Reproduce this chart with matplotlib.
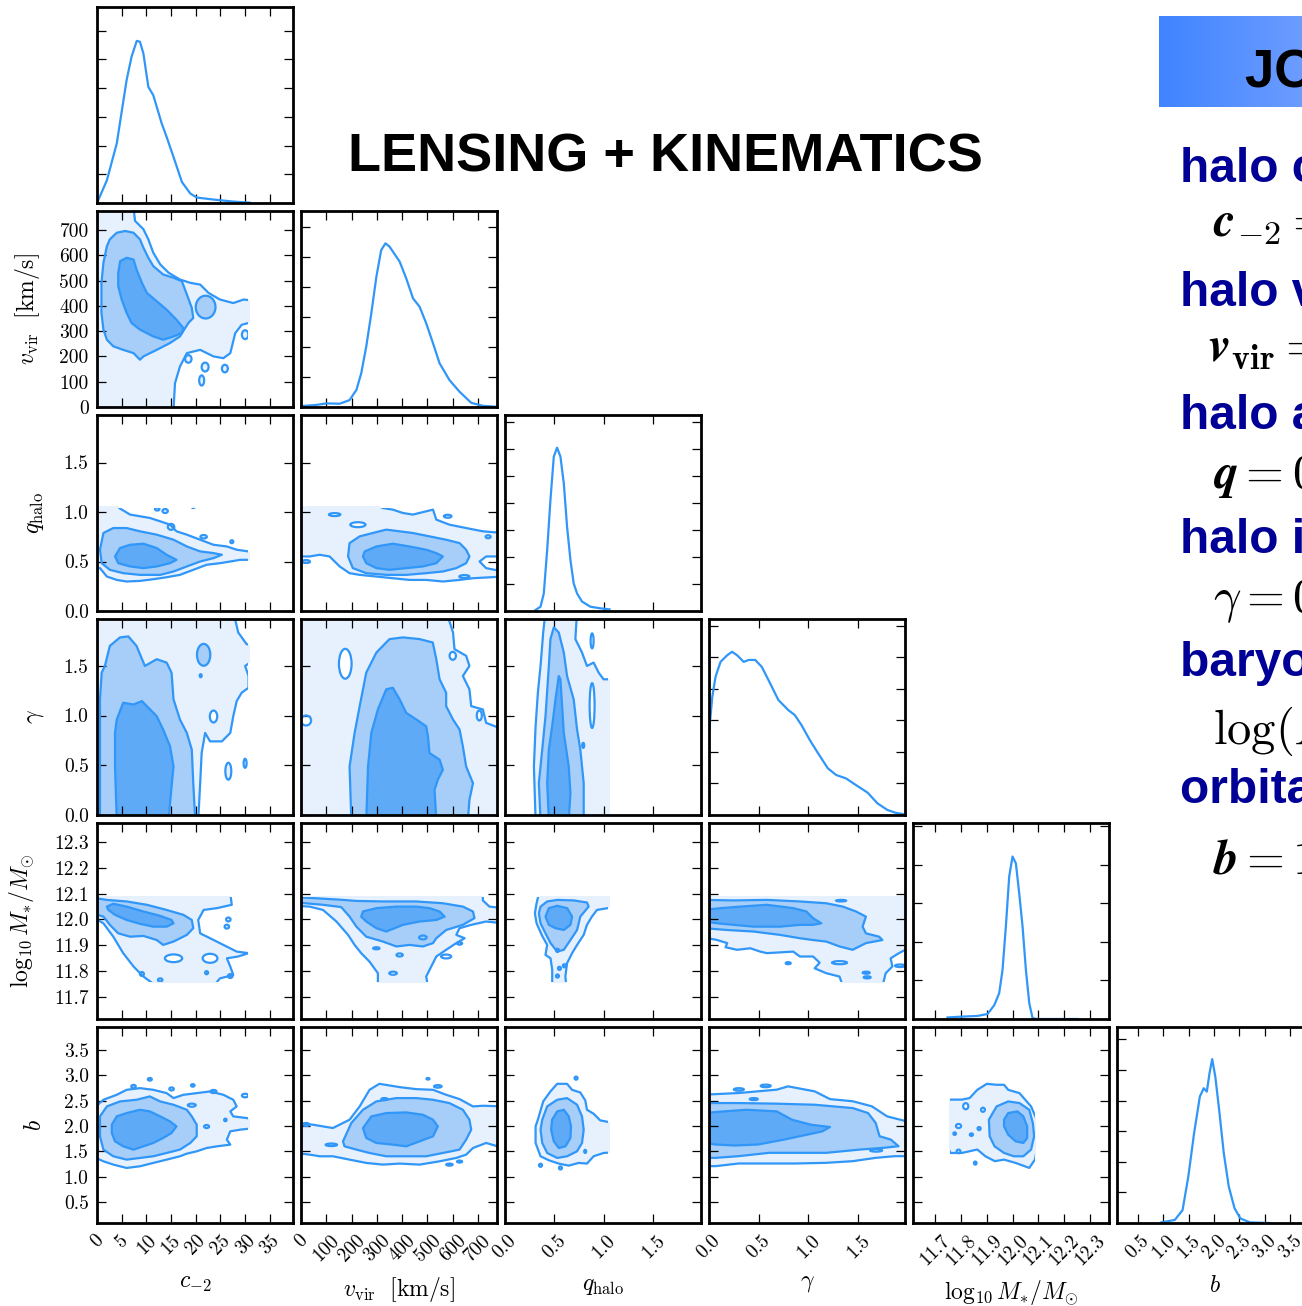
import matplotlib.pyplot as plt
import numpy as np
from matplotlib.colors import LinearSegmentedColormap
from matplotlib.patches import Ellipse, Polygon, Rectangle

plt.rcParams["font.family"] = "serif"
plt.rcParams["font.serif"] = ["cmr10"]
plt.rcParams["mathtext.fontset"] = "cm"
plt.rcParams["axes.formatter.use_mathtext"] = True

line_blue = "#3096f8"
fill_colors = ["#e7f1fe", "#a6cef9", "#5eaaf7"]
navy = "#000096"

# parameters: c_-2, v_vir, q_halo, gamma, log10 M*, b
labels = [
    r"$c_{-2}$",
    r"$v_{\rm vir}\ \ [{\rm km/s}]$",
    r"$q_{\rm halo}$",
    r"$\gamma$",
    r"$\log_{10}M_{*}/M_{\odot}$",
    r"$b$",
]
limits = [(0, 39.7), (0, 775), (0, 1.98), (0, 1.97), (11.613, 12.375), (0.09, 3.95)]
ticks = [
    [0, 5, 10, 15, 20, 25, 30, 35],
    [0, 100, 200, 300, 400, 500, 600, 700],
    [0.0, 0.5, 1.0, 1.5],
    [0.0, 0.5, 1.0, 1.5],
    [11.7, 11.8, 11.9, 12.0, 12.1, 12.2, 12.3],
    [0.5, 1.0, 1.5, 2.0, 2.5, 3.0, 3.5],
]
tick_fmt = ["{:.0f}", "{:.0f}", "{:.1f}", "{:.1f}", "{:.1f}", "{:.1f}"]
# edges of the sampled prior box
cuts = [(None, 31.0), (None, None), (None, 1.057), (None, None), (11.752, 12.092), (None, None)]

# 1D marginals (density in tick units)
c_grid = [0, 2.0, 4.0, 6.0, 7.0, 8.05, 8.7, 9.4, 10.4, 11.4, 13.1, 14.1, 15.5, 17.2, 18.9, 20.2, 23.6, 27.6, 31.0]
c_pdf = [0, 0.79, 2.07, 4.28, 5.09, 5.64, 5.61, 5.2, 4.04, 3.75, 2.77, 2.3, 1.6, 0.73, 0.33, 0.19, 0.12, 0.05, 0.01]
v_grid = [0, 61, 100, 153, 192, 219, 238, 258, 278, 298, 317, 334, 350, 390, 416, 443, 469, 495, 522, 548,
          587, 627, 673, 719, 772]
v_pdf = [0.03, 0.07, 0.12, 0.11, 0.23, 0.57, 1.12, 2.02, 3.13, 4.35, 5.24, 5.47, 5.36, 4.86, 4.30, 3.63, 3.35,
         2.80, 2.13, 1.46, 0.90, 0.51, 0.14, 0.04, 0.01]
q_grid = [0.309, 0.359, 0.392, 0.426, 0.459, 0.493, 0.526, 0.56, 0.594, 0.627, 0.661, 0.694, 0.728, 0.778,
          0.862, 0.962, 1.056]
q_pdf = [0.04, 0.16, 0.65, 2.26, 4.11, 5.72, 6.05, 5.72, 4.73, 3.12, 1.89, 1.02, 0.65, 0.35, 0.16, 0.1, 0.06]
g_grid = [0, 0.033, 0.066, 0.116, 0.183, 0.232, 0.282, 0.349, 0.398, 0.465, 0.531, 0.614, 0.697, 0.797, 0.863,
          0.93, 1.013, 1.096, 1.195, 1.278, 1.378, 1.477, 1.594, 1.693, 1.793, 1.876, 1.949]
g_pdf = [2.59, 3.75, 4.39, 4.86, 5.07, 5.18, 5.07, 4.86, 4.92, 4.92, 4.70, 4.18, 3.65, 3.33, 3.17, 2.85, 2.38,
         1.96, 1.48, 1.27, 1.16, 0.95, 0.71, 0.37, 0.16, 0.07, 0.03]
m_grid = [11.747, 11.799, 11.864, 11.903, 11.929, 11.948, 11.961, 11.974, 11.987, 12.0, 12.013, 12.026, 12.039,
          12.052, 12.065, 12.078, 12.097, 12.253]
m_pdf = [0.04, 0.06, 0.08, 0.13, 0.36, 0.67, 1.27, 2.40, 3.70, 4.22, 4.04, 3.26, 2.40, 1.27, 0.41, 0.02, 0, 0]
b_grid = [0.964, 1.229, 1.381, 1.494, 1.608, 1.722, 1.798, 1.859, 1.912, 1.965, 2.026, 2.102, 2.193, 2.291,
          2.405, 2.519, 2.709, 3.09]
b_pdf = [0.02, 0.1, 0.42, 1.51, 2.93, 4.13, 4.40, 4.29, 4.89, 5.35, 4.78, 3.69, 2.28, 1.19, 0.48, 0.15, 0.02, 0]
marginal_tops = [6.82, 6.55, 7.26, 6.22, 5.09, 6.4]

# 2D credible regions: outer / middle / inner outlines, plus small spots
# spot = (x, y, width, height, level) ; level 0 = empty hole, 1 = outer island, 2 = middle island
cv_inner = [(4.7, 577), (6.0, 590), (7.4, 583), (8.0, 544), (9.1, 491), (10.1, 451), (12.1, 418), (14.1, 385),
            (16.1, 345), (17.5, 312), (17.2, 292), (15.5, 279), (13.4, 266), (11.4, 279), (8.7, 306), (7.0, 332),
            (6.0, 372), (5.0, 425), (4.3, 478), (4.3, 530)]
cv_mid = [(2.6, 663), (4.0, 689), (5.7, 696), (7.4, 689), (8.7, 663), (9.4, 630), (10.4, 590), (11.4, 557),
          (13.4, 524), (15.5, 511), (17.2, 497), (18.2, 445), (19.2, 392), (19.5, 352), (18.5, 332), (16.8, 279),
          (14.8, 253), (12.1, 226), (9.4, 200), (8.7, 187), (7.4, 213), (5.3, 226), (3.3, 240), (2.0, 266),
          (1.3, 306), (0.9, 372), (0.9, 491), (1.3, 570), (2.0, 636)]
cv_outer = [(-1, 790), (7.4, 790), (7.7, 736), (9.4, 703), (10.4, 663), (11.4, 610), (12.8, 564), (14.5, 531),
            (16.8, 504), (18.9, 491), (20.9, 484), (22.6, 451), (24.9, 425), (27.6, 411), (29.7, 425), (32, 420),
            (32, 339), (29.3, 325), (28.0, 292), (27.0, 213), (25.6, 193), (23.6, 200), (20.9, 226), (18.2, 213),
            (16.8, 160), (15.8, 94), (15.5, -10), (-1, -10)]
cv_spots = [(22.0, 395, 4.0, 90, 2), (18.5, 190, 1.3, 30, 1), (21.9, 158, 1.4, 35, 1), (21.2, 105, 1.0, 40, 1),
            (25.9, 152, 1.2, 30, 1), (30.0, 286, 1.3, 35, 1)]

cq_inner = [(3.65, 0.551), (4.66, 0.636), (6.7, 0.669), (9.4, 0.680), (12.1, 0.636), (14.1, 0.568), (16.1, 0.517),
            (14.8, 0.483), (12.1, 0.450), (9.4, 0.433), (6.7, 0.450), (4.3, 0.483)]
cq_mid = [(1.3, 0.788), (3.3, 0.838), (6.0, 0.838), (8.7, 0.805), (12.1, 0.771), (15.5, 0.720), (18.2, 0.652),
          (20.9, 0.602), (23.6, 0.585), (25.3, 0.568), (23.6, 0.534), (20.9, 0.500), (18.2, 0.450), (15.5, 0.399),
          (12.8, 0.365), (8.7, 0.365), (5.3, 0.382), (2.6, 0.416), (0.95, 0.483), (0.6, 0.619)]
cq_outer = [(-1, 1.1), (4.3, 1.1), (4.5, 1.04), (6.7, 0.974), (8.7, 0.957), (10.7, 0.940), (12.8, 0.906),
            (14.8, 0.872), (16.1, 0.805), (18.2, 0.771), (20.9, 0.720), (23.6, 0.669), (26.3, 0.652), (28.3, 0.619),
            (32, 0.592), (32, 0.517), (29.0, 0.517), (27.0, 0.500), (24.9, 0.483), (22.2, 0.467), (19.5, 0.416),
            (16.8, 0.365), (14.1, 0.341), (11.4, 0.321), (8.7, 0.304), (6.0, 0.298), (4.0, 0.314), (2.0, 0.348),
            (0.6, 0.433), (-1, 0.45)]
cq_spots = [(12.2, 1.03, 0.9, 0.03, 1), (13.8, 1.01, 1.1, 0.04, 1), (15.0, 0.85, 1.3, 0.06, 1),
            (19.5, 1.05, 0.6, 0.02, 1), (21.6, 0.75, 1.3, 0.035, 1), (27.3, 0.70, 0.6, 0.03, 1)]

cg_inner = [(4.0, 0.96), (5.3, 1.128), (7.4, 1.111), (9.1, 1.145), (10.1, 1.094), (12.1, 0.993), (13.4, 0.859),
            (14.8, 0.69), (15.5, 0.488), (15.1, 0.286), (14.5, -0.05), (4.0, -0.05), (3.65, 0.488), (3.65, 0.825)]
cg_mid = [(1.6, 1.498), (2.6, 1.70), (4.66, 1.785), (6.35, 1.795), (8.0, 1.70), (9.7, 1.498), (12.1, 1.566),
          (14.1, 1.532), (15.1, 1.431), (15.5, 1.162), (16.8, 0.96), (18.2, 0.825), (19.2, 0.657), (19.5, 0.32),
          (19.9, -0.05), (0.6, -0.05), (0.6, 1.162), (0.95, 1.431)]
cg_outer = [(-1, 2.05), (27.6, 2.05), (28.6, 1.835), (30.3, 1.717), (32, 1.70), (32, 1.566), (30.0, 1.498),
            (30.7, 1.397), (30.7, 1.279), (29.3, 1.229), (28.3, 1.145), (27.6, 0.993), (27.0, 0.825), (25.3, 0.74),
            (22.9, 0.74), (21.9, 0.825), (21.2, 0.623), (20.9, 0.32), (20.5, -0.05), (-1, -0.05)]
cg_spots = [(21.6, 1.61, 2.7, 0.22, 2), (23.6, 0.99, 1.5, 0.12, 0), (26.6, 0.44, 1.2, 0.17, 1),
            (30.0, 0.52, 0.6, 0.09, 1), (21.0, 1.40, 0.4, 0.03, 1)]

cm_inner = [(2.0, 12.050), (3.3, 12.061), (6.0, 12.050), (9.4, 12.031), (12.8, 12.014), (15.1, 11.998),
            (15.5, 11.985), (14.1, 11.972), (11.4, 11.972), (8.7, 11.983), (6.0, 11.998), (3.65, 12.018),
            (2.3, 12.037)]
cm_mid = [(-1, 12.085), (2.0, 12.076), (6.0, 12.070), (10.1, 12.057), (14.1, 12.037), (17.5, 12.018),
          (19.2, 11.998), (19.5, 11.966), (18.2, 11.940), (15.5, 11.914), (13.4, 11.901), (12.1, 11.920),
          (9.4, 11.936), (6.7, 11.933), (4.3, 11.946), (2.6, 11.979), (1.3, 12.011), (-1, 12.024)]
cm_outer = [(-1, 12.10), (27.0, 12.10), (27.3, 12.057), (24.3, 12.044), (21.6, 12.037), (20.5, 11.998),
            (20.9, 11.946), (22.9, 11.927), (25.6, 11.901), (28.3, 11.875), (30.7, 11.869), (28.6, 11.856),
            (26.3, 11.849), (27.0, 11.817), (27.6, 11.784), (24.9, 11.771), (23.6, 11.74), (12.1, 11.74),
            (9.4, 11.778), (7.4, 11.817), (5.3, 11.869), (3.3, 11.933), (1.3, 11.985), (-1, 12.011)]
cm_spots = [(15.5, 11.849, 3.5, 0.03, 0), (22.9, 11.849, 3.0, 0.035, 0), (9.1, 11.788, 0.8, 0.015, 1),
            (12.8, 11.765, 0.9, 0.012, 1), (26.3, 11.972, 0.9, 0.015, 1), (26.6, 12.0, 0.9, 0.015, 1),
            (27.0, 11.78, 0.9, 0.015, 1), (22.2, 11.793, 0.6, 0.012, 2)]

cb_inner = [(3.0, 2.026), (4.0, 2.19), (6.0, 2.255), (8.7, 2.32), (10.7, 2.288), (12.8, 2.19), (14.8, 2.09),
            (16.1, 1.993), (15.1, 1.862), (13.4, 1.764), (11.4, 1.666), (9.4, 1.60), (7.4, 1.535), (5.3, 1.60),
            (3.65, 1.698), (3.0, 1.862)]
cb_mid = [(0.6, 2.19), (2.0, 2.386), (4.66, 2.484), (8.0, 2.517), (10.7, 2.583), (12.8, 2.484), (15.5, 2.419),
          (18.2, 2.32), (19.2, 2.19), (20.2, 2.026), (20.2, 1.797), (18.9, 1.666), (16.8, 1.535), (14.1, 1.469),
          (11.4, 1.404), (8.7, 1.371), (6.0, 1.338), (3.3, 1.404), (1.3, 1.535), (0.6, 1.797)]
cb_outer = [(-1, 2.32), (1.3, 2.517), (4.0, 2.615), (6.0, 2.713), (8.7, 2.746), (11.4, 2.713), (14.1, 2.648),
            (15.5, 2.55), (17.5, 2.615), (20.2, 2.648), (22.9, 2.681), (25.6, 2.615), (27.6, 2.517),
            (28.3, 2.386), (27.0, 2.288), (27.6, 2.19), (30.3, 2.157), (32, 2.124), (32, 1.96), (29.0, 1.928),
            (27.0, 1.895), (26.3, 1.731), (27.0, 1.633), (24.3, 1.60), (22.2, 1.567), (20.2, 1.502),
            (18.2, 1.456), (16.8, 1.404), (14.1, 1.338), (11.4, 1.273), (8.7, 1.207), (6.0, 1.174), (3.3, 1.24),
            (1.3, 1.305), (-1, 1.404)]
cb_spots = [(7.4, 2.78, 0.9, 0.06, 1), (10.7, 2.92, 0.8, 0.05, 1), (15.1, 2.73, 0.9, 0.06, 1),
            (19.4, 2.80, 0.7, 0.05, 1), (23.6, 2.68, 1.2, 0.06, 1), (30.0, 2.60, 1.3, 0.07, 1),
            (19.2, 2.41, 1.6, 0.06, 0), (22.2, 1.99, 1.0, 0.06, 1), (26.0, 2.12, 0.5, 0.05, 1)]

vq_inner = [(252, 0.602), (298, 0.652), (363, 0.68), (429, 0.652), (495, 0.619), (535, 0.585), (561, 0.551),
            (535, 0.483), (482, 0.45), (416, 0.433), (350, 0.416), (298, 0.433), (258, 0.483), (245, 0.551)]
vq_mid = [(192, 0.686), (232, 0.754), (284, 0.788), (337, 0.822), (390, 0.805), (442, 0.788), (508, 0.754),
          (574, 0.72), (627, 0.686), (653, 0.619), (666, 0.551), (653, 0.483), (614, 0.433), (561, 0.399),
          (495, 0.382), (416, 0.365), (337, 0.365), (258, 0.382), (205, 0.433), (186, 0.551)]
vq_outer = [(-20, 1.1), (278, 1.1), (324, 1.04), (363, 1.024), (403, 0.99), (442, 0.974), (495, 1.007),
            (522, 1.024), (535, 0.923), (587, 0.872), (653, 0.838), (719, 0.805), (800, 0.788), (800, 0.551),
            (732, 0.551), (706, 0.50), (732, 0.433), (800, 0.399), (800, 0.348), (680, 0.331), (627, 0.314),
            (561, 0.298), (495, 0.314), (429, 0.314), (363, 0.331), (298, 0.348), (232, 0.365), (192, 0.382),
            (153, 0.45), (113, 0.551), (74, 0.568), (34, 0.551), (-20, 0.551)]
vq_spots = [(133, 0.974, 45, 0.03, 0), (225, 0.872, 60, 0.05, 0), (580, 0.957, 30, 0.03, 1),
            (646, 0.348, 40, 0.03, 1), (740, 0.75, 20, 0.03, 1), (20, 0.50, 30, 0.03, 1)]

vg_inner = [(258, -0.05), (265, 0.488), (278, 0.825), (304, 1.061), (337, 1.263), (363, 1.279), (390, 1.162),
            (416, 1.027), (456, 0.96), (495, 0.892), (502, 0.791), (508, 0.623), (548, 0.556), (561, 0.455),
            (541, 0.354), (528, 0.253), (535, -0.05)]
vg_mid = [(199, -0.05), (192, 0.488), (212, 0.825), (232, 1.094), (258, 1.431), (298, 1.633), (350, 1.768),
          (403, 1.785), (469, 1.768), (521, 1.734), (535, 1.566), (548, 1.364), (574, 1.229), (574, 1.094),
          (601, 0.96), (627, 0.859), (640, 0.69), (653, 0.488), (680, 0.32), (666, 0.152), (660, -0.05)]
vg_outer = [(-20, 2.05), (574, 2.05), (601, 1.835), (607, 1.667), (653, 1.6), (666, 1.498), (640, 1.397),
            (666, 1.263), (673, 1.094), (719, 1.061), (732, 0.926), (800, 0.859), (800, -0.05), (-20, -0.05)]
vg_spots = [(175, 1.52, 50, 0.3, 0), (600, 1.6, 25, 0.08, 0), (705, 1.0, 20, 0.1, 0), (20, 0.95, 40, 0.1, 0)]

vm_inner = [(245, 12.031), (298, 12.044), (377, 12.050), (456, 12.050), (508, 12.044), (548, 12.031),
            (568, 12.011), (535, 11.998), (469, 11.992), (403, 11.979), (337, 11.953), (298, 11.966),
            (258, 11.992), (238, 12.011)]
vm_mid = [(-20, 12.087), (153, 12.077), (219, 12.072), (324, 12.070), (456, 12.070), (561, 12.063),
          (640, 12.050), (680, 12.031), (686, 12.005), (640, 11.979), (574, 11.959), (535, 11.927),
          (522, 11.908), (482, 11.895), (429, 11.901), (377, 11.895), (324, 11.914), (258, 11.933),
          (219, 11.972), (192, 12.011), (159, 12.048), (87, 12.057), (-20, 12.066)]
vm_outer = [(-20, 12.10), (719, 12.10), (719, 12.074), (745, 12.050), (800, 12.044), (800, 11.985),
            (732, 11.992), (673, 11.979), (627, 11.966), (614, 11.94), (647, 11.927), (614, 11.908),
            (574, 11.882), (535, 11.856), (515, 11.817), (495, 11.778), (502, 11.74), (304, 11.74),
            (304, 11.791), (271, 11.836), (238, 11.869), (212, 11.901), (186, 11.94), (140, 11.992),
            (87, 12.037), (34, 12.050), (-20, 12.053)]
vm_spots = [(482, 11.930, 30, 0.015, 0), (298, 11.888, 25, 0.008, 1), (390, 11.862, 25, 0.012, 0),
            (574, 11.856, 40, 0.015, 0), (364, 11.791, 30, 0.012, 0), (627, 11.907, 20, 0.01, 1)]

vb_inner = [(245, 1.96), (278, 2.19), (337, 2.255), (416, 2.268), (482, 2.222), (522, 2.124), (541, 1.993),
            (522, 1.797), (469, 1.698), (416, 1.60), (363, 1.633), (298, 1.666), (258, 1.764)]
vb_mid = [(166, 1.698), (199, 2.059), (245, 2.32), (298, 2.484), (377, 2.55), (456, 2.55), (522, 2.517),
          (587, 2.451), (640, 2.32), (666, 2.124), (673, 1.928), (653, 1.731), (627, 1.535), (561, 1.469),
          (495, 1.404), (416, 1.404), (337, 1.404), (271, 1.469), (219, 1.535), (172, 1.60)]
vb_outer = [(-20, 2.059), (47, 2.026), (126, 1.96), (192, 2.124), (232, 2.386), (271, 2.713), (310, 2.831),
            (390, 2.766), (456, 2.726), (522, 2.713), (574, 2.615), (627, 2.53), (680, 2.386), (719, 2.399),
            (800, 2.386), (800, 1.567), (732, 1.666), (680, 1.567), (653, 1.436), (614, 1.371), (548, 1.305),
            (469, 1.24), (390, 1.26), (324, 1.24), (258, 1.273), (192, 1.338), (126, 1.404), (74, 1.404),
            (34, 1.436), (-20, 1.469)]
vb_spots = [(120, 1.63, 45, 0.05, 2), (541, 2.78, 30, 0.05, 1), (502, 2.93, 12, 0.03, 1),
            (330, 2.53, 25, 0.04, 1), (587, 1.24, 25, 0.04, 1), (627, 1.30, 20, 0.04, 1), (20, 2.03, 25, 0.06, 1)]

qg_inner = [(0.443, -0.05), (0.426, 0.32), (0.443, 0.657), (0.476, 0.892), (0.51, 1.162), (0.543, 1.397),
            (0.56, 1.364), (0.577, 1.094), (0.594, 0.825), (0.644, 0.488), (0.661, 0.219), (0.644, -0.05)]
qg_mid = [(0.359, -0.05), (0.342, 0.32), (0.376, 0.657), (0.409, 0.993), (0.443, 1.498), (0.459, 1.768),
          (0.493, 1.886), (0.543, 1.835), (0.594, 1.633), (0.627, 1.397), (0.694, 1.162), (0.728, 0.859),
          (0.761, 0.657), (0.795, 0.32), (0.795, -0.05)]
qg_outer = [(0.309, -0.05), (0.292, 0.488), (0.309, 0.892), (0.332, 1.229), (0.359, 1.498), (0.386, 1.835),
            (0.409, 2.05), (0.728, 2.05), (0.711, 1.768), (0.778, 1.633), (0.828, 1.498), (0.895, 1.532),
            (0.946, 1.431), (0.996, 1.364), (1.10, 1.364), (1.10, -0.05)]
qg_spots = [(0.88, 1.10, 0.05, 0.45, 0), (0.88, 1.75, 0.03, 0.15, 0), (0.79, 0.7, 0.02, 0.05, 1)]

qm_inner = [(0.409, 12.011), (0.443, 12.044), (0.527, 12.053), (0.628, 12.044), (0.678, 12.011),
            (0.661, 11.979), (0.594, 11.959), (0.51, 11.966), (0.443, 11.979)]
qm_mid = [(0.359, 12.050), (0.426, 12.070), (0.527, 12.076), (0.694, 12.074), (0.828, 12.066), (0.845, 12.050),
          (0.761, 12.011), (0.728, 11.959), (0.661, 11.92), (0.594, 11.882), (0.527, 11.875), (0.46, 11.908),
          (0.409, 11.946), (0.359, 11.985), (0.342, 12.024)]
qm_outer = [(0.342, 12.10), (1.10, 12.10), (1.10, 12.048), (0.929, 12.037), (0.878, 12.011), (0.828, 11.979),
            (0.795, 11.94), (0.728, 11.901), (0.678, 11.869), (0.627, 11.83), (0.61, 11.778), (0.62, 11.74),
            (0.477, 11.74), (0.477, 11.804), (0.46, 11.849), (0.409, 11.862), (0.426, 11.901), (0.376, 11.936),
            (0.319, 11.985), (0.302, 12.024), (0.319, 12.063)]
qm_spots = [(0.53, 11.88, 0.03, 0.012, 2), (0.55, 11.81, 0.03, 0.012, 2), (0.60, 11.82, 0.03, 0.012, 2),
            (0.53, 11.78, 0.03, 0.012, 2)]

qb_inner = [(0.476, 2.124), (0.527, 2.288), (0.594, 2.32), (0.644, 2.19), (0.667, 1.993), (0.661, 1.764),
            (0.611, 1.60), (0.543, 1.567), (0.493, 1.698), (0.466, 1.928)]
qb_mid = [(0.376, 2.124), (0.426, 2.386), (0.527, 2.517), (0.627, 2.55), (0.728, 2.419), (0.778, 2.19),
          (0.795, 1.928), (0.778, 1.666), (0.728, 1.502), (0.627, 1.404), (0.527, 1.371), (0.426, 1.469),
          (0.376, 1.666), (0.359, 1.928)]
qb_outer = [(0.332, 2.124), (0.386, 2.484), (0.459, 2.681), (0.527, 2.831), (0.627, 2.831), (0.677, 2.713),
            (0.761, 2.66), (0.811, 2.504), (0.828, 2.32), (0.895, 2.242), (0.962, 2.111), (1.10, 2.059),
            (1.10, 1.482), (0.996, 1.469), (0.895, 1.404), (0.828, 1.26), (0.744, 1.273), (0.644, 1.22),
            (0.543, 1.26), (0.443, 1.325), (0.359, 1.404), (0.309, 1.666), (0.309, 1.993)]
qb_spots = [(0.718, 2.943, 0.03, 0.06, 1), (0.359, 1.227, 0.03, 0.06, 1), (0.56, 1.174, 0.03, 0.06, 1),
            (0.81, 1.5, 0.02, 0.06, 1)]

gm_inner = [(-0.05, 12.037), (0.116, 12.044), (0.315, 12.050), (0.581, 12.057), (0.847, 12.044),
            (0.979, 12.031), (1.046, 12.005), (1.129, 11.985), (1.046, 11.979), (0.913, 11.979), (0.714, 11.972),
            (0.448, 11.972), (0.249, 11.979), (0.083, 11.985), (-0.05, 11.992)]
gm_mid = [(-0.05, 12.076), (0.249, 12.074), (0.581, 12.076), (0.913, 12.070), (1.179, 12.063), (1.345, 12.050),
          (1.478, 12.031), (1.577, 12.011), (1.544, 11.972), (1.577, 11.946), (1.710, 11.933), (1.743, 11.92),
          (1.577, 11.908), (1.444, 11.882), (1.312, 11.895), (1.179, 11.914), (1.046, 11.92), (0.913, 11.927),
          (0.714, 11.94), (0.448, 11.953), (0.183, 11.959), (-0.05, 11.966)]
gm_outer = [(-0.05, 12.10), (2.04, 12.10), (2.04, 11.895), (1.909, 11.869), (1.826, 11.849), (1.843, 11.817),
            (1.776, 11.791), (1.743, 11.74), (1.345, 11.74), (1.312, 11.778), (1.179, 11.791), (1.062, 11.81),
            (1.112, 11.832), (1.046, 11.856), (0.913, 11.856), (0.847, 11.875), (0.581, 11.869), (0.515, 11.875),
            (0.415, 11.888), (0.282, 11.882), (0.166, 11.892), (0.183, 11.908), (0.083, 11.92), (-0.05, 11.93)]
gm_spots = [(0.796, 11.83, 0.05, 0.008, 2), (1.312, 11.832, 0.15, 0.012, 0), (1.58, 11.793, 0.07, 0.008, 0),
            (1.59, 11.775, 0.07, 0.008, 0), (1.328, 12.073, 0.1, 0.006, 2), (1.92, 11.82, 0.1, 0.01, 0)]

gb_inner = [(-0.05, 2.255), (0.146, 2.288), (0.375, 2.32), (0.681, 2.288), (0.834, 2.124), (1.025, 2.026),
            (1.216, 1.98), (1.14, 1.895), (0.987, 1.83), (0.757, 1.733), (0.49, 1.635), (0.26, 1.616),
            (0.069, 1.635), (-0.05, 1.668)]
gb_mid = [(-0.05, 2.452), (0.298, 2.452), (0.681, 2.44), (1.063, 2.419), (1.446, 2.353), (1.599, 2.255),
          (1.676, 2.059), (1.714, 1.799), (1.828, 1.733), (1.905, 1.602), (1.752, 1.57), (1.522, 1.537),
          (1.178, 1.472), (0.874, 1.472), (0.605, 1.472), (0.298, 1.406), (0.069, 1.373), (-0.05, 1.373)]
gb_outer = [(-0.05, 2.617), (0.298, 2.65), (0.681, 2.716), (0.795, 2.781), (1.063, 2.682), (1.216, 2.53),
            (1.446, 2.487), (1.637, 2.388), (1.79, 2.19), (2.05, 2.06), (2.05, 1.406), (1.866, 1.406),
            (1.676, 1.373), (1.446, 1.308), (1.178, 1.275), (0.874, 1.262), (0.605, 1.262), (0.298, 1.262),
            (0.069, 1.21), (-0.05, 1.21)]
gb_spots = [(0.30, 2.72, 0.1, 0.05, 1), (0.57, 2.79, 0.1, 0.05, 1), (0.45, 2.53, 0.08, 0.04, 1),
            (1.68, 1.52, 0.12, 0.05, 0)]

mb_inner = [(11.967, 2.124), (11.983, 2.255), (12.019, 2.288), (12.042, 2.19), (12.057, 1.993), (12.057, 1.764),
            (12.042, 1.666), (12.012, 1.698), (11.983, 1.829), (11.967, 1.993)]
mb_mid = [(11.908, 2.124), (11.938, 2.386), (11.983, 2.484), (12.027, 2.452), (12.065, 2.32), (12.079, 2.059),
          (12.084, 1.797), (12.072, 1.535), (12.042, 1.404), (12.005, 1.404), (11.967, 1.469), (11.93, 1.60),
          (11.911, 1.797)]
mb_outer = [(11.74, 2.52), (11.803, 2.52), (11.833, 2.55), (11.863, 2.713), (11.9, 2.831), (11.938, 2.812),
            (11.967, 2.812), (11.983, 2.713), (12.027, 2.648), (12.072, 2.386), (12.094, 2.124), (12.099, 1.668),
            (12.087, 1.338), (12.065, 1.175), (12.012, 1.273), (11.967, 1.338), (11.931, 1.308), (11.894, 1.406),
            (11.863, 1.537), (11.803, 1.469), (11.759, 1.469), (11.74, 1.668), (11.74, 2.32)]
mb_spots = [(11.818, 2.39, 0.02, 0.12, 0), (11.885, 2.32, 0.015, 0.08, 0), (11.79, 2.0, 0.02, 0.08, 0),
            (11.775, 1.85, 0.01, 0.05, 2), (11.84, 1.83, 0.012, 0.05, 2), (11.87, 1.95, 0.012, 0.06, 2),
            (11.79, 1.5, 0.015, 0.07, 1), (11.855, 1.27, 0.01, 0.06, 1)]

pairs = {
    (1, 0): (cv_outer, cv_mid, cv_inner, cv_spots),
    (2, 0): (cq_outer, cq_mid, cq_inner, cq_spots),
    (3, 0): (cg_outer, cg_mid, cg_inner, cg_spots),
    (4, 0): (cm_outer, cm_mid, cm_inner, cm_spots),
    (5, 0): (cb_outer, cb_mid, cb_inner, cb_spots),
    (2, 1): (vq_outer, vq_mid, vq_inner, vq_spots),
    (3, 1): (vg_outer, vg_mid, vg_inner, vg_spots),
    (4, 1): (vm_outer, vm_mid, vm_inner, vm_spots),
    (5, 1): (vb_outer, vb_mid, vb_inner, vb_spots),
    (3, 2): (qg_outer, qg_mid, qg_inner, qg_spots),
    (4, 2): (qm_outer, qm_mid, qm_inner, qm_spots),
    (5, 2): (qb_outer, qb_mid, qb_inner, qb_spots),
    (4, 3): (gm_outer, gm_mid, gm_inner, gm_spots),
    (5, 3): (gb_outer, gb_mid, gb_inner, gb_spots),
    (5, 4): (mb_outer, mb_mid, mb_inner, mb_spots),
}
marginals = [(c_grid, c_pdf), (v_grid, v_pdf), (q_grid, q_pdf), (g_grid, g_pdf), (m_grid, m_pdf), (b_grid, b_pdf)]

W, H = 1302, 1306
ylabel_x = [0, -0.28, -0.26, -0.26, -0.31, -0.26]
xlabel_y = [-0.25, -0.265, -0.265, -0.248, -0.28, -0.265]


def cut_box(ax, col, row, shrink):
    """Rectangle (data coords) for the sampled range; cut edges pulled in by `shrink` of the span."""
    (x0, x1), (y0, y1) = limits[col], limits[row]
    dx, dy = (x1 - x0) * shrink, (y1 - y0) * shrink
    xlo, xhi = cuts[col]
    ylo, yhi = cuts[row]
    if xlo is not None:
        x0 = xlo + dx
    if xhi is not None:
        x1 = xhi - dx
    if ylo is not None:
        y0 = ylo + dy
    if yhi is not None:
        y1 = yhi - dy
    return Rectangle((x0, y0), x1 - x0, y1 - y0, transform=ax.transData)


def draw_pair(ax, row, col, outer, mid, inner, spots):
    fill_clip = cut_box(ax, col, row, 0.0)
    line_clip = cut_box(ax, col, row, 0.008)

    def add(patch, clip):
        ax.add_patch(patch)
        patch.set_clip_path(clip)

    def spot(x, y, w, h, fc):
        add(Ellipse((x, y), w, h, fc=fc, ec="none", zorder=1), fill_clip)
        add(Ellipse((x, y), w, h, fill=False, ec=line_blue, lw=1.6, zorder=2), line_clip)

    for level, poly in enumerate([outer, mid, inner]):
        add(Polygon(poly, closed=True, fc=fill_colors[level], ec="none", zorder=1), fill_clip)
        add(Polygon(poly, closed=True, fill=False, ec=line_blue, lw=1.6, joinstyle="round", zorder=2),
            line_clip)
        for x, y, w, h, kind in spots:
            if level == 0 and kind == 0:
                spot(x, y, w, h, "white")
            elif level == 0 and kind == 1:
                spot(x, y, w, h, fill_colors[0])
            elif level == 1 and kind == 2:
                spot(x, y, w, h, fill_colors[1])


fig = plt.figure(figsize=(W / 100, H / 100), dpi=100)

for row in range(6):
    for col in range(row + 1):
        x0 = 97 + 204 * col
        y0 = 7 + 204 * row
        ax = fig.add_axes([x0 / W, 1 - (y0 + 196) / H, 196 / W, 196 / H])
        ax.set_xlim(limits[col])
        ax.set_xticks(ticks[col])
        if row == col:
            grid, pdf = marginals[col]
            ax.plot(grid, pdf, color=line_blue, lw=1.6)
            ax.set_ylim(0, marginal_tops[col])
            ax.set_yticks(range(1, int(marginal_tops[col]) + 1))
        else:
            ax.set_ylim(limits[row])
            ax.set_yticks(ticks[row])
            draw_pair(ax, row, col, *pairs[(row, col)])

        ax.tick_params(direction="in", length=6.5, width=0.9, top=True, right=True, labelsize=14,
                       labelbottom=False, labelleft=False, pad=6)
        for s in ax.spines.values():
            s.set_linewidth(2.0)
            s.set_zorder(5)

        if row == 5:
            ax.tick_params(labelbottom=True)
            ax.set_xticklabels([tick_fmt[col].format(t) for t in ticks[col]], rotation=45)
            ax.set_xlabel(labels[col], fontsize=17, va="top")
            ax.xaxis.set_label_coords(0.5, xlabel_y[col])
        if col == 0 and row > 0:
            ax.tick_params(labelleft=True)
            ax.set_yticklabels([tick_fmt[row].format(t) for t in ticks[row]])
            ax.set_ylabel(labels[row], fontsize=17)
            ax.yaxis.set_label_coords(ylabel_x[row], 0.5)

# headline
fig.text(665 / W, 1 - 172 / H, "LENSING + KINEMATICS", ha="center", va="baseline", fontsize=39,
         fontweight="bold", family="Liberation Sans", color="black")

# joint-fit summary column at the right edge
box = fig.add_axes([1159 / W, 1 - 107 / H, (W - 1159) / W, 91 / H])
box.imshow(np.linspace(0, 1, 256)[None, :], aspect="auto", extent=[0, 1, 0, 1],
           cmap=LinearSegmentedColormap.from_list("box", ["#3f84ff", "#6c9cff"]))
box.set_axis_off()
fig.text(1245 / W, 1 - 88 / H, "JOINT FIT", ha="left", va="baseline", fontsize=38, fontweight="bold",
         family="Liberation Sans", color="black")

heads = ["halo concentration", "halo virial velocity", "halo axis ratio", "halo inner slope", "baryonic mass",
         "orbital parameter"]
head_base = [182, 306, 429, 553, 676, 803]
for text, y in zip(heads, head_base):
    fig.text(1180 / W, 1 - y / H, text, ha="left", va="baseline", fontsize=34.5, fontweight="bold",
             family="Liberation Sans", color=navy)

values = [r"$\mathbfit{c}_{\mathbf{-2}} = 8.6$", r"$\mathbfit{v}_{\mathbf{vir}} = 380$", r"$\mathbfit{q} = 0.55$",
          r"$\gamma = 0.6$", r"$\log(M_{*}/M_{\odot}) = 12.0$", r"$\mathbfit{b} = 1.9$"]
value_x = [1213, 1208, 1213, 1213, 1213, 1213]
value_base = [237, 362, 488, 612, 744, 874]
value_size = [35, 35, 35, 35, 35, 35]
for text, x, y, s in zip(values, value_x, value_base, value_size):
    fig.text(x / W, 1 - y / H, text, ha="left", va="baseline", fontsize=s, color="black")

fig.savefig("out.png", dpi=100)
